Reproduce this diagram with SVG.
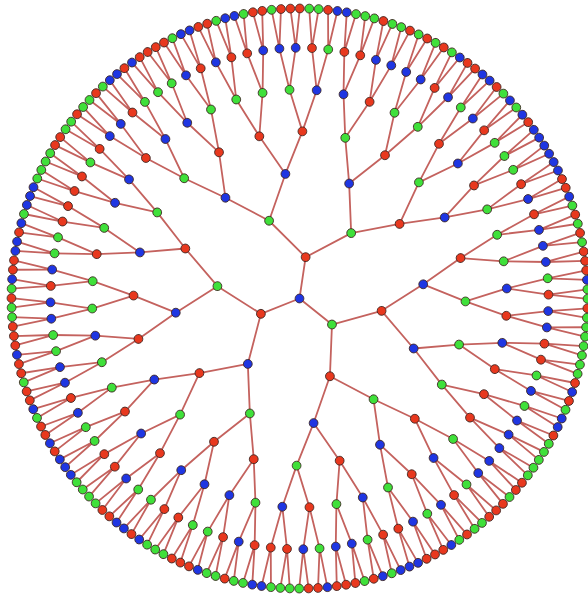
<svg xmlns="http://www.w3.org/2000/svg" width="588" height="597" viewBox="0 0 588 597">
<style>
.edge{fill:none;stroke:#c4625e;stroke-width:1.8}
circle{r:4.4px;stroke:#3b2420;stroke-width:.8}
.r{fill:#e8381e}
.g{fill:#3fe03a}
.b{fill:#1f36e2}
</style>
<defs>
<g id="e6"><path d="M249 0L288 4.71M249 0L288-4.71"/></g>
<g id="e5"><path d="M207.5 0L248.87 8.15M207.5 0L248.87-8.15"/><use href="#e6" transform="rotate(-1.875)"/><use href="#e6" transform="rotate(1.875)"/></g>
<g id="e4"><path d="M166 0L207.06 13.57M166 0L207.06-13.57"/><use href="#e5" transform="rotate(-3.75)"/><use href="#e5" transform="rotate(3.75)"/></g>
<g id="e3"><path d="M124.5 0L164.58 21.67M124.5 0L164.58-21.67"/><use href="#e4" transform="rotate(-7.5)"/><use href="#e4" transform="rotate(7.5)"/></g>
<g id="e2"><path d="M83 0L120.26 32.22M83 0L120.26-32.22"/><use href="#e3" transform="rotate(-15)"/><use href="#e3" transform="rotate(15)"/></g>
<g id="e1"><path d="M0 0L41.5 0M41.5 0L71.88 41.5M41.5 0L71.88-41.5"/><use href="#e2" transform="rotate(-30)"/><use href="#e2" transform="rotate(30)"/></g>
</defs>
<rect width="588" height="597" fill="#fff"/>
<g id="connectors" class="edge" transform="translate(299.5,298.5) scale(1,1.007) rotate(-0.5)">
<use href="#e1" transform="rotate(-81)"/>
<use href="#e1" transform="rotate(39)"/>
<use href="#e1" transform="rotate(159)"/>
</g>
<g id="nodes" transform="translate(299.5,298.5) scale(1,1.007) rotate(-0.5)">
<g id="q0" transform="rotate(-81)"><circle class="r" cx="41.5"/>
 <g id="p0" transform="rotate(-30)"><circle class="g" cx="83"/>
  <g id="n0" transform="rotate(-15)"><circle class="b" cx="124.5"/>
   <g id="m0" transform="rotate(-7.5)"><circle class="g" cx="166"/>
    <g id="k0" transform="rotate(-3.75)"><circle class="r" cx="207.5"/>
<g id="j0" transform="rotate(-1.875)"><circle class="b" cx="249"/><circle id="i0" class="r" cx="288" cy="-4.71"/><circle id="i1" class="g" cx="288" cy="4.71"/></g>
<g id="j1" transform="rotate(1.875)"><circle class="b" cx="249"/><circle id="i2" class="g" cx="288" cy="-4.71"/><circle id="i3" class="r" cx="288" cy="4.71"/></g>
    </g>
    <g id="k1" transform="rotate(3.75)"><circle class="b" cx="207.5"/>
<g id="j2" transform="rotate(-1.875)"><circle class="r" cx="249"/><circle id="i4" class="g" cx="288" cy="-4.71"/><circle id="i5" class="b" cx="288" cy="4.71"/></g>
<g id="j3" transform="rotate(1.875)"><circle class="g" cx="249"/><circle id="i6" class="b" cx="288" cy="-4.71"/><circle id="i7" class="r" cx="288" cy="4.71"/></g>
    </g>
   </g>
   <g id="m1" transform="rotate(7.5)"><circle class="r" cx="166"/>
    <g id="k2" transform="rotate(-3.75)"><circle class="b" cx="207.5"/>
<g id="j4" transform="rotate(-1.875)"><circle class="g" cx="249"/><circle id="i8" class="b" cx="288" cy="-4.71"/><circle id="i9" class="r" cx="288" cy="4.71"/></g>
<g id="j5" transform="rotate(1.875)"><circle class="g" cx="249"/><circle id="i10" class="r" cx="288" cy="-4.71"/><circle id="i11" class="r" cx="288" cy="4.71"/></g>
    </g>
    <g id="k3" transform="rotate(3.75)"><circle class="g" cx="207.5"/>
<g id="j6" transform="rotate(-1.875)"><circle class="b" cx="249"/><circle id="i12" class="r" cx="288" cy="-4.71"/><circle id="i13" class="g" cx="288" cy="4.71"/></g>
<g id="j7" transform="rotate(1.875)"><circle class="r" cx="249"/><circle id="i14" class="b" cx="288" cy="-4.71"/><circle id="i15" class="b" cx="288" cy="4.71"/></g>
    </g>
   </g>
  </g>
  <g id="n1" transform="rotate(15)"><circle class="b" cx="124.5"/>
   <g id="m2" transform="rotate(-7.5)"><circle class="r" cx="166"/>
    <g id="k4" transform="rotate(-3.75)"><circle class="g" cx="207.5"/>
<g id="j8" transform="rotate(-1.875)"><circle class="b" cx="249"/><circle id="i16" class="r" cx="288" cy="-4.71"/><circle id="i17" class="r" cx="288" cy="4.71"/></g>
<g id="j9" transform="rotate(1.875)"><circle class="r" cx="249"/><circle id="i18" class="g" cx="288" cy="-4.71"/><circle id="i19" class="b" cx="288" cy="4.71"/></g>
    </g>
    <g id="k5" transform="rotate(3.75)"><circle class="g" cx="207.5"/>
<g id="j10" transform="rotate(-1.875)"><circle class="r" cx="249"/><circle id="i20" class="b" cx="288" cy="-4.71"/><circle id="i21" class="g" cx="288" cy="4.71"/></g>
<g id="j11" transform="rotate(1.875)"><circle class="b" cx="249"/><circle id="i22" class="r" cx="288" cy="-4.71"/><circle id="i23" class="r" cx="288" cy="4.71"/></g>
    </g>
   </g>
   <g id="m3" transform="rotate(7.5)"><circle class="r" cx="166"/>
    <g id="k6" transform="rotate(-3.75)"><circle class="g" cx="207.5"/>
<g id="j12" transform="rotate(-1.875)"><circle class="b" cx="249"/><circle id="i24" class="g" cx="288" cy="-4.71"/><circle id="i25" class="r" cx="288" cy="4.71"/></g>
<g id="j13" transform="rotate(1.875)"><circle class="b" cx="249"/><circle id="i26" class="r" cx="288" cy="-4.71"/><circle id="i27" class="r" cx="288" cy="4.71"/></g>
    </g>
    <g id="k7" transform="rotate(3.75)"><circle class="b" cx="207.5"/>
<g id="j14" transform="rotate(-1.875)"><circle class="r" cx="249"/><circle id="i28" class="g" cx="288" cy="-4.71"/><circle id="i29" class="g" cx="288" cy="4.71"/></g>
<g id="j15" transform="rotate(1.875)"><circle class="g" cx="249"/><circle id="i30" class="r" cx="288" cy="-4.71"/><circle id="i31" class="b" cx="288" cy="4.71"/></g>
    </g>
   </g>
  </g>
 </g>
 <g id="p1" transform="rotate(30)"><circle class="g" cx="83"/>
  <g id="n2" transform="rotate(-15)"><circle class="b" cx="124.5"/>
   <g id="m4" transform="rotate(-7.5)"><circle class="g" cx="166"/>
    <g id="k8" transform="rotate(-3.75)"><circle class="b" cx="207.5"/>
<g id="j16" transform="rotate(-1.875)"><circle class="r" cx="249"/><circle id="i32" class="b" cx="288" cy="-4.71"/><circle id="i33" class="g" cx="288" cy="4.71"/></g>
<g id="j17" transform="rotate(1.875)"><circle class="r" cx="249"/><circle id="i34" class="g" cx="288" cy="-4.71"/><circle id="i35" class="g" cx="288" cy="4.71"/></g>
    </g>
    <g id="k9" transform="rotate(3.75)"><circle class="r" cx="207.5"/>
<g id="j18" transform="rotate(-1.875)"><circle class="b" cx="249"/><circle id="i36" class="r" cx="288" cy="-4.71"/><circle id="i37" class="g" cx="288" cy="4.71"/></g>
<g id="j19" transform="rotate(1.875)"><circle class="b" cx="249"/><circle id="i38" class="g" cx="288" cy="-4.71"/><circle id="i39" class="r" cx="288" cy="4.71"/></g>
    </g>
   </g>
   <g id="m5" transform="rotate(7.5)"><circle class="r" cx="166"/>
    <g id="k10" transform="rotate(-3.75)"><circle class="g" cx="207.5"/>
<g id="j20" transform="rotate(-1.875)"><circle class="b" cx="249"/><circle id="i40" class="g" cx="288" cy="-4.71"/><circle id="i41" class="r" cx="288" cy="4.71"/></g>
<g id="j21" transform="rotate(1.875)"><circle class="b" cx="249"/><circle id="i42" class="g" cx="288" cy="-4.71"/><circle id="i43" class="r" cx="288" cy="4.71"/></g>
    </g>
    <g id="k11" transform="rotate(3.75)"><circle class="g" cx="207.5"/>
<g id="j22" transform="rotate(-1.875)"><circle class="r" cx="249"/><circle id="i44" class="g" cx="288" cy="-4.71"/><circle id="i45" class="b" cx="288" cy="4.71"/></g>
<g id="j23" transform="rotate(1.875)"><circle class="b" cx="249"/><circle id="i46" class="r" cx="288" cy="-4.71"/><circle id="i47" class="r" cx="288" cy="4.71"/></g>
    </g>
   </g>
  </g>
  <g id="n3" transform="rotate(15)"><circle class="r" cx="124.5"/>
   <g id="m6" transform="rotate(-7.5)"><circle class="g" cx="166"/>
    <g id="k12" transform="rotate(-3.75)"><circle class="r" cx="207.5"/>
<g id="j24" transform="rotate(-1.875)"><circle class="g" cx="249"/><circle id="i48" class="b" cx="288" cy="-4.71"/><circle id="i49" class="b" cx="288" cy="4.71"/></g>
<g id="j25" transform="rotate(1.875)"><circle class="b" cx="249"/><circle id="i50" class="r" cx="288" cy="-4.71"/><circle id="i51" class="g" cx="288" cy="4.71"/></g>
    </g>
    <g id="k13" transform="rotate(3.75)"><circle class="b" cx="207.5"/>
<g id="j26" transform="rotate(-1.875)"><circle class="r" cx="249"/><circle id="i52" class="b" cx="288" cy="-4.71"/><circle id="i53" class="g" cx="288" cy="4.71"/></g>
<g id="j27" transform="rotate(1.875)"><circle class="g" cx="249"/><circle id="i54" class="b" cx="288" cy="-4.71"/><circle id="i55" class="r" cx="288" cy="4.71"/></g>
    </g>
   </g>
   <g id="m7" transform="rotate(7.5)"><circle class="b" cx="166"/>
    <g id="k14" transform="rotate(-3.75)"><circle class="r" cx="207.5"/>
<g id="j28" transform="rotate(-1.875)"><circle class="g" cx="249"/><circle id="i56" class="b" cx="288" cy="-4.71"/><circle id="i57" class="b" cx="288" cy="4.71"/></g>
<g id="j29" transform="rotate(1.875)"><circle class="g" cx="249"/><circle id="i58" class="b" cx="288" cy="-4.71"/><circle id="i59" class="b" cx="288" cy="4.71"/></g>
    </g>
    <g id="k15" transform="rotate(3.75)"><circle class="g" cx="207.5"/>
<g id="j30" transform="rotate(-1.875)"><circle class="r" cx="249"/><circle id="i60" class="b" cx="288" cy="-4.71"/><circle id="i61" class="b" cx="288" cy="4.71"/></g>
<g id="j31" transform="rotate(1.875)"><circle class="b" cx="249"/><circle id="i62" class="r" cx="288" cy="-4.71"/><circle id="i63" class="r" cx="288" cy="4.71"/></g>
    </g>
   </g>
  </g>
 </g>
</g>
<g id="q1" transform="rotate(39)"><circle class="g" cx="41.5"/>
 <g id="p2" transform="rotate(-30)"><circle class="r" cx="83"/>
  <g id="n4" transform="rotate(-15)"><circle class="b" cx="124.5"/>
   <g id="m8" transform="rotate(-7.5)"><circle class="r" cx="166"/>
    <g id="k16" transform="rotate(-3.75)"><circle class="g" cx="207.5"/>
<g id="j32" transform="rotate(-1.875)"><circle class="r" cx="249"/><circle id="i64" class="b" cx="288" cy="-4.71"/><circle id="i65" class="g" cx="288" cy="4.71"/></g>
<g id="j33" transform="rotate(1.875)"><circle class="b" cx="249"/><circle id="i66" class="r" cx="288" cy="-4.71"/><circle id="i67" class="g" cx="288" cy="4.71"/></g>
    </g>
    <g id="k17" transform="rotate(3.75)"><circle class="g" cx="207.5"/>
<g id="j34" transform="rotate(-1.875)"><circle class="b" cx="249"/><circle id="i68" class="r" cx="288" cy="-4.71"/><circle id="i69" class="g" cx="288" cy="4.71"/></g>
<g id="j35" transform="rotate(1.875)"><circle class="b" cx="249"/><circle id="i70" class="r" cx="288" cy="-4.71"/><circle id="i71" class="r" cx="288" cy="4.71"/></g>
    </g>
   </g>
   <g id="m9" transform="rotate(7.5)"><circle class="g" cx="166"/>
    <g id="k18" transform="rotate(-3.75)"><circle class="b" cx="207.5"/>
<g id="j36" transform="rotate(-1.875)"><circle class="g" cx="249"/><circle id="i72" class="r" cx="288" cy="-4.71"/><circle id="i73" class="b" cx="288" cy="4.71"/></g>
<g id="j37" transform="rotate(1.875)"><circle class="r" cx="249"/><circle id="i74" class="g" cx="288" cy="-4.71"/><circle id="i75" class="g" cx="288" cy="4.71"/></g>
    </g>
    <g id="k19" transform="rotate(3.75)"><circle class="r" cx="207.5"/>
<g id="j38" transform="rotate(-1.875)"><circle class="b" cx="249"/><circle id="i76" class="r" cx="288" cy="-4.71"/><circle id="i77" class="g" cx="288" cy="4.71"/></g>
<g id="j39" transform="rotate(1.875)"><circle class="b" cx="249"/><circle id="i78" class="g" cx="288" cy="-4.71"/><circle id="i79" class="g" cx="288" cy="4.71"/></g>
    </g>
   </g>
  </g>
  <g id="n5" transform="rotate(15)"><circle class="b" cx="124.5"/>
   <g id="m10" transform="rotate(-7.5)"><circle class="g" cx="166"/>
    <g id="k20" transform="rotate(-3.75)"><circle class="b" cx="207.5"/>
<g id="j40" transform="rotate(-1.875)"><circle class="r" cx="249"/><circle id="i80" class="g" cx="288" cy="-4.71"/><circle id="i81" class="g" cx="288" cy="4.71"/></g>
<g id="j41" transform="rotate(1.875)"><circle class="r" cx="249"/><circle id="i82" class="g" cx="288" cy="-4.71"/><circle id="i83" class="g" cx="288" cy="4.71"/></g>
    </g>
    <g id="k21" transform="rotate(3.75)"><circle class="r" cx="207.5"/>
<g id="j42" transform="rotate(-1.875)"><circle class="g" cx="249"/><circle id="i84" class="r" cx="288" cy="-4.71"/><circle id="i85" class="b" cx="288" cy="4.71"/></g>
<g id="j43" transform="rotate(1.875)"><circle class="b" cx="249"/><circle id="i86" class="r" cx="288" cy="-4.71"/><circle id="i87" class="g" cx="288" cy="4.71"/></g>
    </g>
   </g>
   <g id="m11" transform="rotate(7.5)"><circle class="g" cx="166"/>
    <g id="k22" transform="rotate(-3.75)"><circle class="r" cx="207.5"/>
<g id="j44" transform="rotate(-1.875)"><circle class="g" cx="249"/><circle id="i88" class="b" cx="288" cy="-4.71"/><circle id="i89" class="b" cx="288" cy="4.71"/></g>
<g id="j45" transform="rotate(1.875)"><circle class="b" cx="249"/><circle id="i90" class="r" cx="288" cy="-4.71"/><circle id="i91" class="g" cx="288" cy="4.71"/></g>
    </g>
    <g id="k23" transform="rotate(3.75)"><circle class="r" cx="207.5"/>
<g id="j46" transform="rotate(-1.875)"><circle class="b" cx="249"/><circle id="i92" class="g" cx="288" cy="-4.71"/><circle id="i93" class="g" cx="288" cy="4.71"/></g>
<g id="j47" transform="rotate(1.875)"><circle class="b" cx="249"/><circle id="i94" class="g" cx="288" cy="-4.71"/><circle id="i95" class="g" cx="288" cy="4.71"/></g>
    </g>
   </g>
  </g>
 </g>
 <g id="p3" transform="rotate(30)"><circle class="r" cx="83"/>
  <g id="n6" transform="rotate(-15)"><circle class="g" cx="124.5"/>
   <g id="m12" transform="rotate(-7.5)"><circle class="r" cx="166"/>
    <g id="k24" transform="rotate(-3.75)"><circle class="g" cx="207.5"/>
<g id="j48" transform="rotate(-1.875)"><circle class="b" cx="249"/><circle id="i96" class="r" cx="288" cy="-4.71"/><circle id="i97" class="r" cx="288" cy="4.71"/></g>
<g id="j49" transform="rotate(1.875)"><circle class="b" cx="249"/><circle id="i98" class="g" cx="288" cy="-4.71"/><circle id="i99" class="r" cx="288" cy="4.71"/></g>
    </g>
    <g id="k25" transform="rotate(3.75)"><circle class="b" cx="207.5"/>
<g id="j50" transform="rotate(-1.875)"><circle class="g" cx="249"/><circle id="i100" class="r" cx="288" cy="-4.71"/><circle id="i101" class="r" cx="288" cy="4.71"/></g>
<g id="j51" transform="rotate(1.875)"><circle class="r" cx="249"/><circle id="i102" class="g" cx="288" cy="-4.71"/><circle id="i103" class="g" cx="288" cy="4.71"/></g>
    </g>
   </g>
   <g id="m13" transform="rotate(7.5)"><circle class="b" cx="166"/>
    <g id="k26" transform="rotate(-3.75)"><circle class="r" cx="207.5"/>
<g id="j52" transform="rotate(-1.875)"><circle class="b" cx="249"/><circle id="i104" class="r" cx="288" cy="-4.71"/><circle id="i105" class="g" cx="288" cy="4.71"/></g>
<g id="j53" transform="rotate(1.875)"><circle class="g" cx="249"/><circle id="i106" class="b" cx="288" cy="-4.71"/><circle id="i107" class="r" cx="288" cy="4.71"/></g>
    </g>
    <g id="k27" transform="rotate(3.75)"><circle class="g" cx="207.5"/>
<g id="j54" transform="rotate(-1.875)"><circle class="b" cx="249"/><circle id="i108" class="r" cx="288" cy="-4.71"/><circle id="i109" class="r" cx="288" cy="4.71"/></g>
<g id="j55" transform="rotate(1.875)"><circle class="r" cx="249"/><circle id="i110" class="b" cx="288" cy="-4.71"/><circle id="i111" class="b" cx="288" cy="4.71"/></g>
    </g>
   </g>
  </g>
  <g id="n7" transform="rotate(15)"><circle class="b" cx="124.5"/>
   <g id="m14" transform="rotate(-7.5)"><circle class="r" cx="166"/>
    <g id="k28" transform="rotate(-3.75)"><circle class="b" cx="207.5"/>
<g id="j56" transform="rotate(-1.875)"><circle class="r" cx="249"/><circle id="i112" class="b" cx="288" cy="-4.71"/><circle id="i113" class="g" cx="288" cy="4.71"/></g>
<g id="j57" transform="rotate(1.875)"><circle class="g" cx="249"/><circle id="i114" class="b" cx="288" cy="-4.71"/><circle id="i115" class="r" cx="288" cy="4.71"/></g>
    </g>
    <g id="k29" transform="rotate(3.75)"><circle class="g" cx="207.5"/>
<g id="j58" transform="rotate(-1.875)"><circle class="b" cx="249"/><circle id="i116" class="g" cx="288" cy="-4.71"/><circle id="i117" class="r" cx="288" cy="4.71"/></g>
<g id="j59" transform="rotate(1.875)"><circle class="b" cx="249"/><circle id="i118" class="r" cx="288" cy="-4.71"/><circle id="i119" class="r" cx="288" cy="4.71"/></g>
    </g>
   </g>
   <g id="m15" transform="rotate(7.5)"><circle class="g" cx="166"/>
    <g id="k30" transform="rotate(-3.75)"><circle class="r" cx="207.5"/>
<g id="j60" transform="rotate(-1.875)"><circle class="g" cx="249"/><circle id="i120" class="b" cx="288" cy="-4.71"/><circle id="i121" class="r" cx="288" cy="4.71"/></g>
<g id="j61" transform="rotate(1.875)"><circle class="b" cx="249"/><circle id="i122" class="r" cx="288" cy="-4.71"/><circle id="i123" class="g" cx="288" cy="4.71"/></g>
    </g>
    <g id="k31" transform="rotate(3.75)"><circle class="b" cx="207.5"/>
<g id="j62" transform="rotate(-1.875)"><circle class="r" cx="249"/><circle id="i124" class="g" cx="288" cy="-4.71"/><circle id="i125" class="g" cx="288" cy="4.71"/></g>
<g id="j63" transform="rotate(1.875)"><circle class="r" cx="249"/><circle id="i126" class="g" cx="288" cy="-4.71"/><circle id="i127" class="b" cx="288" cy="4.71"/></g>
    </g>
   </g>
  </g>
 </g>
</g>
<g id="q2" transform="rotate(159)"><circle class="r" cx="41.5"/>
 <g id="p4" transform="rotate(-30)"><circle class="b" cx="83"/>
  <g id="n8" transform="rotate(-15)"><circle class="g" cx="124.5"/>
   <g id="m16" transform="rotate(-7.5)"><circle class="r" cx="166"/>
    <g id="k32" transform="rotate(-3.75)"><circle class="g" cx="207.5"/>
<g id="j64" transform="rotate(-1.875)"><circle class="r" cx="249"/><circle id="i128" class="b" cx="288" cy="-4.71"/><circle id="i129" class="g" cx="288" cy="4.71"/></g>
<g id="j65" transform="rotate(1.875)"><circle class="b" cx="249"/><circle id="i130" class="g" cx="288" cy="-4.71"/><circle id="i131" class="r" cx="288" cy="4.71"/></g>
    </g>
    <g id="k33" transform="rotate(3.75)"><circle class="b" cx="207.5"/>
<g id="j66" transform="rotate(-1.875)"><circle class="r" cx="249"/><circle id="i132" class="g" cx="288" cy="-4.71"/><circle id="i133" class="g" cx="288" cy="4.71"/></g>
<g id="j67" transform="rotate(1.875)"><circle class="g" cx="249"/><circle id="i134" class="b" cx="288" cy="-4.71"/><circle id="i135" class="r" cx="288" cy="4.71"/></g>
    </g>
   </g>
   <g id="m17" transform="rotate(7.5)"><circle class="r" cx="166"/>
    <g id="k34" transform="rotate(-3.75)"><circle class="b" cx="207.5"/>
<g id="j68" transform="rotate(-1.875)"><circle class="g" cx="249"/><circle id="i136" class="r" cx="288" cy="-4.71"/><circle id="i137" class="r" cx="288" cy="4.71"/></g>
<g id="j69" transform="rotate(1.875)"><circle class="r" cx="249"/><circle id="i138" class="g" cx="288" cy="-4.71"/><circle id="i139" class="g" cx="288" cy="4.71"/></g>
    </g>
    <g id="k35" transform="rotate(3.75)"><circle class="b" cx="207.5"/>
<g id="j70" transform="rotate(-1.875)"><circle class="r" cx="249"/><circle id="i140" class="g" cx="288" cy="-4.71"/><circle id="i141" class="b" cx="288" cy="4.71"/></g>
<g id="j71" transform="rotate(1.875)"><circle class="g" cx="249"/><circle id="i142" class="r" cx="288" cy="-4.71"/><circle id="i143" class="b" cx="288" cy="4.71"/></g>
    </g>
   </g>
  </g>
  <g id="n9" transform="rotate(15)"><circle class="r" cx="124.5"/>
   <g id="m18" transform="rotate(-7.5)"><circle class="g" cx="166"/>
    <g id="k36" transform="rotate(-3.75)"><circle class="r" cx="207.5"/>
<g id="j72" transform="rotate(-1.875)"><circle class="g" cx="249"/><circle id="i144" class="b" cx="288" cy="-4.71"/><circle id="i145" class="r" cx="288" cy="4.71"/></g>
<g id="j73" transform="rotate(1.875)"><circle class="b" cx="249"/><circle id="i146" class="r" cx="288" cy="-4.71"/><circle id="i147" class="g" cx="288" cy="4.71"/></g>
    </g>
    <g id="k37" transform="rotate(3.75)"><circle class="b" cx="207.5"/>
<g id="j74" transform="rotate(-1.875)"><circle class="r" cx="249"/><circle id="i148" class="g" cx="288" cy="-4.71"/><circle id="i149" class="g" cx="288" cy="4.71"/></g>
<g id="j75" transform="rotate(1.875)"><circle class="r" cx="249"/><circle id="i150" class="g" cx="288" cy="-4.71"/><circle id="i151" class="b" cx="288" cy="4.71"/></g>
    </g>
   </g>
   <g id="m19" transform="rotate(7.5)"><circle class="b" cx="166"/>
    <g id="k38" transform="rotate(-3.75)"><circle class="r" cx="207.5"/>
<g id="j76" transform="rotate(-1.875)"><circle class="g" cx="249"/><circle id="i152" class="b" cx="288" cy="-4.71"/><circle id="i153" class="b" cx="288" cy="4.71"/></g>
<g id="j77" transform="rotate(1.875)"><circle class="g" cx="249"/><circle id="i154" class="r" cx="288" cy="-4.71"/><circle id="i155" class="b" cx="288" cy="4.71"/></g>
    </g>
    <g id="k39" transform="rotate(3.75)"><circle class="g" cx="207.5"/>
<g id="j78" transform="rotate(-1.875)"><circle class="b" cx="249"/><circle id="i156" class="r" cx="288" cy="-4.71"/><circle id="i157" class="r" cx="288" cy="4.71"/></g>
<g id="j79" transform="rotate(1.875)"><circle class="r" cx="249"/><circle id="i158" class="g" cx="288" cy="-4.71"/><circle id="i159" class="b" cx="288" cy="4.71"/></g>
    </g>
   </g>
  </g>
 </g>
 <g id="p5" transform="rotate(30)"><circle class="g" cx="83"/>
  <g id="n10" transform="rotate(-15)"><circle class="b" cx="124.5"/>
   <g id="m20" transform="rotate(-7.5)"><circle class="r" cx="166"/>
    <g id="k40" transform="rotate(-3.75)"><circle class="g" cx="207.5"/>
<g id="j80" transform="rotate(-1.875)"><circle class="b" cx="249"/><circle id="i160" class="r" cx="288" cy="-4.71"/><circle id="i161" class="r" cx="288" cy="4.71"/></g>
<g id="j81" transform="rotate(1.875)"><circle class="b" cx="249"/><circle id="i162" class="g" cx="288" cy="-4.71"/><circle id="i163" class="r" cx="288" cy="4.71"/></g>
    </g>
    <g id="k41" transform="rotate(3.75)"><circle class="b" cx="207.5"/>
<g id="j82" transform="rotate(-1.875)"><circle class="g" cx="249"/><circle id="i164" class="r" cx="288" cy="-4.71"/><circle id="i165" class="b" cx="288" cy="4.71"/></g>
<g id="j83" transform="rotate(1.875)"><circle class="g" cx="249"/><circle id="i166" class="r" cx="288" cy="-4.71"/><circle id="i167" class="r" cx="288" cy="4.71"/></g>
    </g>
   </g>
   <g id="m21" transform="rotate(7.5)"><circle class="r" cx="166"/>
    <g id="k42" transform="rotate(-3.75)"><circle class="g" cx="207.5"/>
<g id="j84" transform="rotate(-1.875)"><circle class="b" cx="249"/><circle id="i168" class="r" cx="288" cy="-4.71"/><circle id="i169" class="g" cx="288" cy="4.71"/></g>
<g id="j85" transform="rotate(1.875)"><circle class="b" cx="249"/><circle id="i170" class="g" cx="288" cy="-4.71"/><circle id="i171" class="r" cx="288" cy="4.71"/></g>
    </g>
    <g id="k43" transform="rotate(3.75)"><circle class="g" cx="207.5"/>
<g id="j86" transform="rotate(-1.875)"><circle class="r" cx="249"/><circle id="i172" class="g" cx="288" cy="-4.71"/><circle id="i173" class="b" cx="288" cy="4.71"/></g>
<g id="j87" transform="rotate(1.875)"><circle class="b" cx="249"/><circle id="i174" class="r" cx="288" cy="-4.71"/><circle id="i175" class="r" cx="288" cy="4.71"/></g>
    </g>
   </g>
  </g>
  <g id="n11" transform="rotate(15)"><circle class="r" cx="124.5"/>
   <g id="m22" transform="rotate(-7.5)"><circle class="b" cx="166"/>
    <g id="k44" transform="rotate(-3.75)"><circle class="r" cx="207.5"/>
<g id="j88" transform="rotate(-1.875)"><circle class="g" cx="249"/><circle id="i176" class="b" cx="288" cy="-4.71"/><circle id="i177" class="b" cx="288" cy="4.71"/></g>
<g id="j89" transform="rotate(1.875)"><circle class="g" cx="249"/><circle id="i178" class="r" cx="288" cy="-4.71"/><circle id="i179" class="b" cx="288" cy="4.71"/></g>
    </g>
    <g id="k45" transform="rotate(3.75)"><circle class="g" cx="207.5"/>
<g id="j90" transform="rotate(-1.875)"><circle class="r" cx="249"/><circle id="i180" class="g" cx="288" cy="-4.71"/><circle id="i181" class="b" cx="288" cy="4.71"/></g>
<g id="j91" transform="rotate(1.875)"><circle class="r" cx="249"/><circle id="i182" class="b" cx="288" cy="-4.71"/><circle id="i183" class="b" cx="288" cy="4.71"/></g>
    </g>
   </g>
   <g id="m23" transform="rotate(7.5)"><circle class="g" cx="166"/>
    <g id="k46" transform="rotate(-3.75)"><circle class="b" cx="207.5"/>
<g id="j92" transform="rotate(-1.875)"><circle class="r" cx="249"/><circle id="i184" class="g" cx="288" cy="-4.71"/><circle id="i185" class="g" cx="288" cy="4.71"/></g>
<g id="j93" transform="rotate(1.875)"><circle class="r" cx="249"/><circle id="i186" class="g" cx="288" cy="-4.71"/><circle id="i187" class="g" cx="288" cy="4.71"/></g>
    </g>
    <g id="k47" transform="rotate(3.75)"><circle class="b" cx="207.5"/>
<g id="j94" transform="rotate(-1.875)"><circle class="g" cx="249"/><circle id="i188" class="r" cx="288" cy="-4.71"/><circle id="i189" class="r" cx="288" cy="4.71"/></g>
<g id="j95" transform="rotate(1.875)"><circle class="r" cx="249"/><circle id="i190" class="g" cx="288" cy="-4.71"/><circle id="i191" class="g" cx="288" cy="4.71"/></g>
    </g>
   </g>
  </g>
 </g>
</g>
<g id="root"><circle class="b" cx="0"/></g>
</g>
</svg>
